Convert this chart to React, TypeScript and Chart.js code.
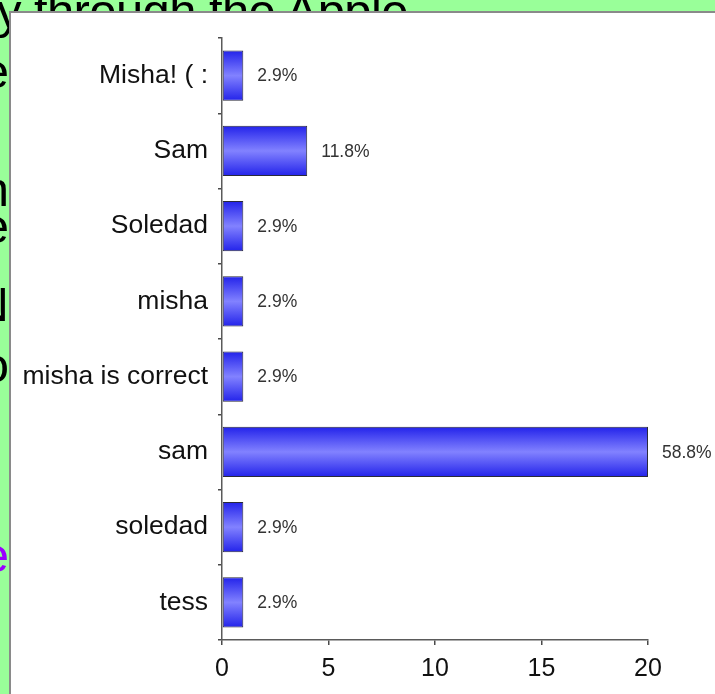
import React, { useEffect, useRef } from "react";
import { Chart, registerables } from "chart.js";

Chart.register(...registerables);

const categories = ["Misha! ( :", "Sam", "Soledad", "misha", "misha is correct", "sam", "soledad", "tess"];
const votes = [1, 4, 1, 1, 1, 20, 1, 1];
const percentLabels = ["2.9%", "11.8%", "2.9%", "2.9%", "2.9%", "58.8%", "2.9%", "2.9%"];
const xTicks = [0, 5, 10, 15, 20];

const FONT = "'Liberation Sans', Arial, sans-serif";
const BAR_PCT = 0.67;

const valueLabelPlugin = {
  id: "valueLabels",
  afterDatasetsDraw(chart: any) {
    const ctx = chart.ctx;
    const meta = chart.getDatasetMeta(0);
    ctx.save();
    ctx.font = `17.5px ${FONT}`;
    ctx.fillStyle = "#333333";
    ctx.textAlign = "left";
    ctx.textBaseline = "middle";
    meta.data.forEach((el: any, i: number) => {
      ctx.fillText(percentLabels[i], el.x + 14, el.y + 1);
    });
    ctx.restore();
  },
};

export default function App() {
  const canvasRef = useRef<HTMLCanvasElement | null>(null);

  useEffect(() => {
    const prevMargin = document.body.style.margin;
    document.body.style.margin = "0";
    const canvas = canvasRef.current;
    if (!canvas) return;
    const chart = new Chart(canvas, {
      type: "bar",
      data: {
        labels: categories,
        datasets: [
          {
            data: votes,
            backgroundColor: (c: any) => {
              const ch = c.chart;
              const y = ch.scales && ch.scales.y;
              if (!y || c.dataIndex == null || !isFinite(y.height)) return "#4a4aff";
              const center = y.getPixelForValue(c.dataIndex);
              const half = ((y.height / categories.length) * BAR_PCT) / 2;
              if (!isFinite(center) || !isFinite(half) || half <= 0) return "#4a4aff";
              const g = ch.ctx.createLinearGradient(0, center - half, 0, center + half);
              g.addColorStop(0, "#2222ea");
              g.addColorStop(0.5, "#8282ff");
              g.addColorStop(1, "#2222ea");
              return g;
            },
            borderColor: "#2a2a3a",
            borderWidth: 1,
            borderSkipped: false,
            barPercentage: BAR_PCT,
            categoryPercentage: 1,
          },
        ],
      },
      options: {
        indexAxis: "y",
        animation: false,
        responsive: false,
        maintainAspectRatio: false,
        layout: { padding: { left: 0, top: 38, right: 67, bottom: 0 } },
        plugins: {
          legend: { display: false },
          tooltip: { enabled: false },
          title: { display: false },
        },
        scales: {
          x: {
            type: "linear",
            min: 0,
            max: 20,
            afterBuildTicks: (s: any) => {
              s.ticks = xTicks.map((v) => ({ value: v }));
            },
            afterFit: (s: any) => {
              s.height = 54;
            },
            border: { display: true, color: "#5a5a5a", width: 1.5 },
            grid: { drawOnChartArea: false, drawTicks: true, tickLength: 5, color: "#4a4a4a", lineWidth: 1.5 },
            ticks: {
              color: "#111111",
              font: { family: FONT, size: 25 },
              padding: 9,
            },
          },
          y: {
            type: "category",
            afterFit: (s: any) => {
              s.width = 222;
            },
            border: { display: true, color: "#5a5a5a", width: 1.5 },
            grid: { drawOnChartArea: false, drawTicks: true, tickLength: 4, color: "#4a4a4a", lineWidth: 1.5, offset: true },
            ticks: {
              color: "#111111",
              font: { family: FONT, size: 26.5 },
              padding: 10,
            },
          },
        },
      },
      plugins: [valueLabelPlugin],
    } as any);
    return () => {
      chart.destroy();
      document.body.style.margin = prevMargin;
    };
  }, []);

  const bigText: React.CSSProperties = {
    position: "absolute",
    fontFamily: FONT,
    fontSize: 49,
    lineHeight: "50px",
    color: "#000",
    whiteSpace: "nowrap",
  };

  const edgeLetter = (ch: string, top: number, color = "#000") => (
    <div style={{ ...bigText, top, right: 706, color }}>{ch}</div>
  );

  return (
    <div
      style={{
        position: "fixed",
        left: 0,
        top: 0,
        width: 715,
        height: 694,
        background: "#99ff99",
        overflow: "hidden",
      }}
    >
      <div style={{ ...bigText, top: -14, left: -3, letterSpacing: -0.6 }}>y through the Apple</div>
      {edgeLetter("e", 46)}
      {edgeLetter("n", 164)}
      {edgeLetter("e", 201)}
      {edgeLetter("N", 279)}
      {edgeLetter("o", 340)}
      {edgeLetter("e", 530, "#9900ff")}
      <div
        style={{
          position: "absolute",
          left: 9,
          top: 11,
          width: 706,
          height: 683,
          background: "#ffffff",
          borderLeft: "2px solid #8a8a8a",
          borderTop: "2px solid #8a8a8a",
          boxSizing: "border-box",
        }}
      />
      <canvas
        ref={canvasRef}
        width={715}
        height={694}
        style={{ position: "absolute", left: 0, top: 0, width: 715, height: 694 }}
      />
    </div>
  );
}
